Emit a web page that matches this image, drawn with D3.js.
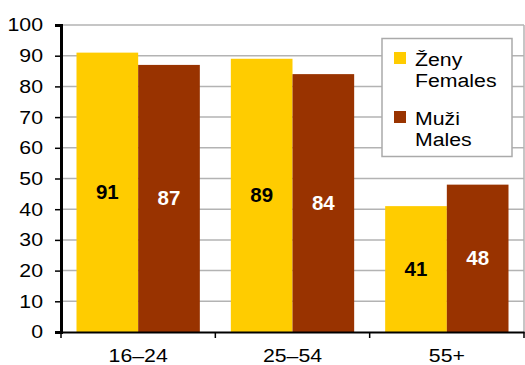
<!DOCTYPE html>
<html>
<head>
<meta charset="utf-8">
<script src="https://cdn.jsdelivr.net/npm/d3@7"></script>
<style>
  body { margin: 0; background: #fff; }
  text { font-family: "Liberation Sans", Arial, sans-serif; }
</style>
</head>
<body>
<svg id="chart" width="525" height="365"></svg>
<script>
const categories = ['16–24', '25–54', '55+']
const females = [91, 89, 41]
const males = [87, 84, 48]
const seriesNames = [['Ženy', 'Females'], ['Muži', 'Males']]
const yTicks = [0, 10, 20, 30, 40, 50, 60, 70, 80, 90, 100]

const colors = ['#FFCC00', '#993300']
const labelColors = ['#000', '#fff']

const svg = d3.select('#chart')
const padLeft = 61, padRight = 524, padTop = 25, padBottom = 332

// the reference text is a bit wider than Liberation Sans, stretch it around its anchor
var stretch = function(sel, s){
  sel.each(function(){
    var x0 = +this.getAttribute('x') || 0
    d3.select(this).attr('transform', 'translate(' + x0 + ',0) scale(' + s + ',1) translate(' + (-x0) + ',0)')
  })
}

const x = d3.scaleBand()
  .domain(categories)
  .range([padLeft, padRight])
  .paddingInner(0)
  .paddingOuter(0)

const inner = d3.scaleBand()
  .domain([0, 1])
  .range([15.5, x.bandwidth() - 15.5])

const y = d3.scaleLinear()
  .domain([0, 100])
  .range([padBottom, padTop])

// gridlines
svg.append('g')
  .selectAll('line')
  .data(yTicks.filter(d => d > 0))
  .join('line')
    .attr('x1', padLeft)
    .attr('x2', padRight)
    .attr('y1', d => y(d))
    .attr('y2', d => y(d))
    .attr('stroke', '#b3b3b3')
    .attr('stroke-width', 1.5)

svg.append('line')
  .attr('x1', padRight).attr('x2', padRight)
  .attr('y1', y(100)).attr('y2', y(0))
  .attr('stroke', '#b3b3b3')
  .attr('stroke-width', 1.5)

// bars
const data = categories.map((c, i) => ({cat: c, vals: [females[i], males[i]]}))
const groups = svg.append('g')
  .selectAll('g')
  .data(data)
  .join('g')
    .attr('transform', d => 'translate(' + x(d.cat) + ',0)')

groups.selectAll('rect')
  .data(d => d.vals.map((v, k) => ({k: k, v: v})))
  .join('rect')
    .attr('x', d => inner(d.k))
    .attr('width', inner.bandwidth())
    .attr('y', d => y(d.v))
    .attr('height', d => y(0) - y(d.v))
    .attr('fill', d => colors[d.k])

groups.selectAll('text')
  .data(d => d.vals.map((v, k) => ({k: k, v: v})))
  .join('text')
    .attr('x', d => inner(d.k) + inner.bandwidth() / 2)
    .attr('y', d => (y(d.v) + y(0)) / 2)
    .attr('dy', '0.36em')
    .attr('text-anchor', 'middle')
    .attr('font-size', 19.5)
    .attr('font-weight', 'bold')
    .attr('fill', d => labelColors[d.k])
    .text(d => d.v)
    .call(stretch, 1.05)

// y axis
const yAxis = svg.append('g')
  .attr('transform', 'translate(' + padLeft + ',0)')
  .call(d3.axisLeft(y).tickValues(yTicks).tickSize(6).tickPadding(12))
yAxis.select('.domain').attr('stroke', '#000').attr('stroke-width', 3)
yAxis.selectAll('.tick line').attr('stroke', '#000').attr('stroke-width', 1.5)
yAxis.selectAll('text')
  .attr('font-size', 18.5)
  .attr('font-family', '"Liberation Sans", Arial, sans-serif')
  .attr('fill', '#000')
  .call(stretch, 1.15)

// x axis
const xAxis = svg.append('g')
  .attr('transform', 'translate(0,' + padBottom + ')')
  .call(d3.axisBottom(x).tickSize(0).tickPadding(17))
xAxis.select('.domain').attr('stroke', '#000').attr('stroke-width', 2)
xAxis.selectAll('text')
  .attr('font-size', 18.5)
  .attr('font-family', '"Liberation Sans", Arial, sans-serif')
  .attr('fill', '#000')
  .call(stretch, 1.15)

// category boundary ticks
const edges = categories.map(c => x(c)).concat([x(categories[categories.length - 1]) + x.bandwidth()])
svg.append('g')
  .selectAll('line')
  .data(edges)
  .join('line')
    .attr('x1', d => d)
    .attr('x2', d => d)
    .attr('y1', padBottom)
    .attr('y2', padBottom + 6)
    .attr('stroke', '#000')
    .attr('stroke-width', 1.5)

// legend
const legend = svg.append('g')
legend.append('rect')
  .attr('x', 382).attr('y', 38.5)
  .attr('width', 130).attr('height', 118)
  .attr('fill', '#fff')
  .attr('stroke', '#aaaaaa')
  .attr('stroke-width', 1.5)

seriesNames.forEach((names, k) => {
  const oy = 52 + k * 59
  legend.append('rect')
    .attr('x', 394).attr('y', oy)
    .attr('width', 12).attr('height', 12)
    .attr('fill', colors[k])
  legend.append('text')
    .attr('x', 415).attr('y', oy + 7)
    .attr('dy', '0.36em')
    .attr('font-size', 19)
    .text(names[0])
    .call(stretch, 1.12)
  legend.append('text')
    .attr('x', 415).attr('y', oy + 28)
    .attr('dy', '0.36em')
    .attr('font-size', 19)
    .text(names[1])
    .call(stretch, 1.12)
})
</script>
</body>
</html>
